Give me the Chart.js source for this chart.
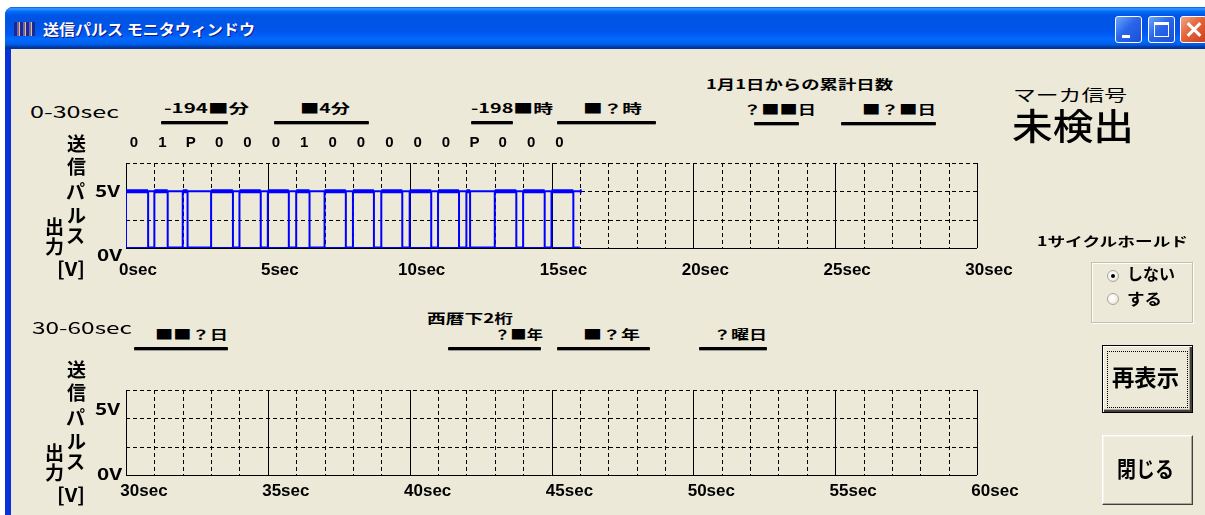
<!DOCTYPE html>
<html>
<head>
<meta charset="utf-8">
<script src="https://cdn.jsdelivr.net/npm/chart.js@4.4.1/dist/chart.umd.min.js"></script>
<style>
  body { margin:0; width:1205px; height:515px; overflow:hidden; background:#fff; position:relative;
         font-family:'Noto Sans CJK JP', sans-serif; }
  .abs { position:absolute; box-sizing:border-box; }
  .t { position:absolute; white-space:nowrap; line-height:1; transform-origin:0 0; color:#000; font-weight:700; font-size:13px; }
  .ul { position:absolute; height:3px; background:#000; box-shadow:0 1px 0 #9a9890; border-radius:1px; }
  .tb { position:absolute; top:16px; width:27px; height:27px; border:1px solid #fff; border-radius:3px; box-sizing:border-box;
        background:linear-gradient(135deg,#6aa6ff 0%,#2a66ea 45%,#1a4fd6 100%); }
  .radio { position:absolute; width:12px; height:12px; border-radius:50%; box-sizing:border-box;
           border:1px solid #a8a698; background:radial-gradient(circle at 40% 40%,#fff 0%,#f4f3ee 50%,#d6d4c8 100%); }
  canvas { position:absolute; left:0; }
</style>
</head>
<body>
<!-- window frame -->
<div class="abs" style="left:5px;top:7px;width:1215px;height:520px;border-radius:8px 8px 0 0;background:linear-gradient(90deg,#0831d9,#166aee 40%,#0855dd)"></div>
<div class="abs" style="left:5px;top:7px;width:1215px;height:42px;border-radius:8px 8px 0 0;
  background:linear-gradient(to bottom,#0058ee 0%,#3593ff 4%,#288eff 6%,#127dff 8%,#036ffc 10%,#0262ee 14%,#0057e5 20%,#0054e3 24%,#0055eb 56%,#005bf5 66%,#026afe 76%,#0062ef 86%,#0052d6 92%,#0040ab 94%,#003092 100%)"></div>
<div class="abs" style="left:11px;top:49px;width:1200px;height:470px;background:#ece9d8"></div>

<!-- title bar -->
<div class="abs" style="left:14px;top:22px;width:21px;height:14px;
  background:repeating-linear-gradient(90deg,#1b2a8c 0 3px,#6c5fd0 3px 5px,#e8c84a 5px 6px)"></div>
<div class="t" data-w="212" style="left:43px;top:21px;font-size:15px;color:#fff;text-shadow:1px 1px 0 #0f1a89">送信パルス モニタウィンドウ</div>
<div class="tb" style="left:1115px"><div class="abs" style="left:6px;top:18px;width:8px;height:3px;background:#fff"></div></div>
<div class="tb" style="left:1148px"><div class="abs" style="left:5px;top:5px;width:15px;height:15px;border:1px solid #fff;border-top-width:3px"></div></div>
<div class="tb" style="left:1180px;background:linear-gradient(135deg,#f3a486 0%,#e4643a 45%,#c8401c 100%)">
  <div class="abs" style="left:4px;top:11px;width:18px;height:3px;background:#fff;transform:rotate(45deg)"></div>
  <div class="abs" style="left:4px;top:11px;width:18px;height:3px;background:#fff;transform:rotate(-45deg)"></div>
</div>

<!-- charts -->
<canvas id="topChart" width="1040" height="160" style="top:131px"></canvas>
<canvas id="bottomChart" width="1040" height="160" style="top:358px"></canvas>

<!-- 0-30sec header -->
<div class="t" data-w="89" style="left:30px;top:103px;font-size:16px;font-weight:400">0-30sec</div>
<div class="t" data-w="85" style="left:164px;top:101px">-194■分</div>
<div class="t" data-w="50" style="left:300px;top:101px">■4分</div>
<div class="t" data-w="82" style="left:471px;top:101px">-198■時</div>
<div class="t" data-w="59" style="left:583px;top:101px">■？時</div>
<div class="t" data-w="187" style="left:706px;top:77px">1月1日からの累計日数</div>
<div class="t" data-w="73" style="left:743px;top:102px">？■■日</div>
<div class="t" data-w="74" style="left:862px;top:102px">■？■日</div>
<div class="ul" style="left:161px;top:121px;width:67px"></div>
<div class="ul" style="left:274px;top:121px;width:95px"></div>
<div class="ul" style="left:471px;top:121px;width:42px"></div>
<div class="ul" style="left:557px;top:121px;width:99px"></div>
<div class="ul" style="left:754px;top:122px;width:45px"></div>
<div class="ul" style="left:841px;top:122px;width:95px"></div>

<div class="t" data-w="114" style="left:1013px;top:86px;font-size:16px;font-weight:400">マーカ信号</div>
<div class="t" data-w="122" style="left:1012px;top:106px;font-size:36px;font-weight:500">未検出</div>

<!-- top y label -->
<div class="t" style="left:67px;top:133px;font-size:19px">送</div>
<div class="t" style="left:67px;top:156px;font-size:19px">信</div>
<div class="t" style="left:66px;top:181px;font-size:19px">パ</div>
<div class="t" style="left:67px;top:205px;font-size:19px">ル</div>
<div class="t" style="left:66px;top:225px;font-size:19px">ス</div>
<div class="t" style="left:45px;top:216px;font-size:19px">出</div>
<div class="t" style="left:45px;top:236px;font-size:19px">力</div>
<div class="t" data-w="28" style="left:57px;top:258px;font-size:19px">[V]</div>
<div class="t" data-w="25" style="left:95px;top:182px;font-size:16px">5V</div>
<div class="t" data-w="25" style="left:97px;top:246px;font-size:16px">0V</div>

<!-- 30-60sec header -->
<div class="t" data-w="100" style="left:32px;top:319px;font-size:16px;font-weight:400">30-60sec</div>
<div class="t" data-w="73" style="left:155px;top:327px">■■？日</div>
<div class="t" data-w="86" style="left:427px;top:311px">西暦下2桁</div>
<div class="t" data-w="49" style="left:494px;top:327px">？■年</div>
<div class="t" data-w="57" style="left:583px;top:327px">■？年</div>
<div class="t" data-w="54" style="left:713px;top:327px">？曜日</div>
<div class="ul" style="left:134px;top:347px;width:94px"></div>
<div class="ul" style="left:448px;top:347px;width:93px"></div>
<div class="ul" style="left:557px;top:347px;width:93px"></div>
<div class="ul" style="left:699px;top:347px;width:68px"></div>

<!-- bottom y label -->
<div class="t" style="left:67px;top:359px;font-size:19px">送</div>
<div class="t" style="left:67px;top:382px;font-size:19px">信</div>
<div class="t" style="left:66px;top:407px;font-size:19px">パ</div>
<div class="t" style="left:67px;top:431px;font-size:19px">ル</div>
<div class="t" style="left:66px;top:451px;font-size:19px">ス</div>
<div class="t" style="left:45px;top:442px;font-size:19px">出</div>
<div class="t" style="left:45px;top:462px;font-size:19px">力</div>
<div class="t" data-w="28" style="left:57px;top:484px;font-size:19px">[V]</div>
<div class="t" data-w="25" style="left:95px;top:400px;font-size:16px">5V</div>
<div class="t" data-w="25" style="left:97px;top:465px;font-size:16px">0V</div>

<!-- right panel -->
<div class="t" data-w="151" style="left:1037px;top:234px">1サイクルホールド</div>
<div class="abs" style="left:1091px;top:262px;width:102px;height:61px;border:1px solid #c3c0b0;box-shadow:inset 1px 1px #fff,1px 1px #fff"></div>
<div class="radio" style="left:1107px;top:270px"><div class="abs" style="left:3px;top:3px;width:4px;height:4px;border-radius:50%;background:#000"></div></div>
<div class="t" data-w="48" style="left:1127px;top:265px;font-size:16px">しない</div>
<div class="radio" style="left:1107px;top:293px"></div>
<div class="t" data-w="35" style="left:1127px;top:290px;font-size:16px">する</div>

<div class="abs" style="left:1102px;top:345px;width:91px;height:68px;background:#ece9d8;border:1px solid #000;
  box-shadow:inset 1px 1px #fff,inset -2px -2px #404040,inset -3px -3px #aca899"></div>
<div class="abs" style="left:1107px;top:351px;width:81px;height:57px;border:1px dotted #000"></div>
<div class="t" data-w="67" style="left:1112px;top:365px;font-size:23px">再表示</div>

<div class="abs" style="left:1102px;top:435px;width:91px;height:70px;background:#ece9d8;border:1px solid;
  border-color:#fff #404040 #404040 #fff;box-shadow:inset -1px -1px #aca899,inset 1px 1px #f4f3ee"></div>
<div class="t" data-w="57" style="left:1117px;top:456px;font-size:22px">閉じる</div>

<script>
// ---------- Data ----------
const BITS = ['0', '1', 'P', '0', '0', '0', '1', '0', '0', '0', '0', '0', 'P', '0', '0', '0'];
// seconds the pulse stays at 5V in each second
const HIGH_SEC = [0.78, 0.47, 0.17, 0.77, 0.75, 0.74, 0.47, 0.75, 0.74, 0.74, 0.76, 0.74, 0.13, 0.76, 0.76, 0.77];
const TAIL_START = 16;   // last rising edge before the trace stops
const TAIL_LEN = 0.06;
const HIGH_V = 5;
const LOW_V = 0;
const TOP_RANGE = [0, 30];
const BOTTOM_RANGE = [30, 60];
const TICK_STEP = 5;
const V_GRID = [2.5, 5, 7.5];
const V_MAX = 7.5;

const LABEL_FONT = '"Liberation Sans", "DejaVu Sans", sans-serif';

// text widths: stretch each label to the width seen in the screenshot
document.querySelectorAll('[data-w]').forEach(el => {
  const w = el.getBoundingClientRect().width;
  el.style.transform = `scaleX(${(+el.dataset.w / w).toFixed(3)})`;
});

// ---------- Trace ----------
function buildTrace() {
  const step = [], hi = [], lo = [];
  HIGH_SEC.forEach((d, i) => {
    const fall = i + d;
    step.push({x: i, y: HIGH_V}, {x: fall, y: LOW_V});
    hi.push({x: i, y: HIGH_V}, {x: fall, y: HIGH_V}, {x: fall, y: null});
    lo.push({x: fall, y: LOW_V}, {x: i + 1, y: LOW_V}, {x: i + 1, y: null});
  });
  step.push({x: TAIL_START, y: HIGH_V}, {x: TAIL_START + TAIL_LEN, y: HIGH_V});
  hi.push({x: TAIL_START, y: HIGH_V}, {x: TAIL_START + TAIL_LEN, y: HIGH_V});
  return {step, hi, lo};
}

// ---------- Scope grid (dashed each second, solid every 5s) ----------
const scopeGrid = {
  id: 'scopeGrid',
  beforeDatasetsDraw(chart) {
    const {ctx, chartArea: a, scales: {x, y}} = chart;
    ctx.save();
    ctx.strokeStyle = '#000';
    ctx.lineWidth = 1;
    const line = (x1, y1, x2, y2, dashed) => {
      ctx.setLineDash(dashed ? [4, 3] : []);
      ctx.beginPath();
      ctx.moveTo(x1, y1);
      ctx.lineTo(x2, y2);
      ctx.stroke();
    };
    for (let s = x.min; s <= x.max; s++) {
      const px = Math.round(x.getPixelForValue(s)) + 0.5;
      line(px, a.top, px, a.bottom, s % TICK_STEP !== 0);
    }
    V_GRID.forEach(v => {
      const py = Math.round(y.getPixelForValue(v)) + 0.5;
      line(a.left, py, a.right, py, true);
    });
    const py0 = Math.round(y.getPixelForValue(LOW_V)) + 0.5;
    line(a.left, py0, a.right, py0, false);
    ctx.restore();
  }
};

// bit values written above each second
const bitRow = {
  id: 'bitRow',
  afterDraw(chart) {
    const {ctx, scales: {x}} = chart;
    ctx.save();
    ctx.fillStyle = '#000';
    ctx.font = 'bold 15px ' + LABEL_FONT;
    ctx.textAlign = 'center';
    ctx.textBaseline = 'middle';
    BITS.forEach((b, i) => ctx.fillText(b, x.getPixelForValue(i) + 8, 12));
    ctx.restore();
  }
};

function makeScope(canvasId, range, datasets, tickPad, labelOffset, plugins) {
  return new Chart(document.getElementById(canvasId), {
    type: 'line',
    data: {datasets},
    plugins: [scopeGrid, ...plugins],
    options: {
      responsive: false,
      animation: false,
      devicePixelRatio: 1,
      layout: {padding: {left: 126, right: 63, top: 32, bottom: 0}},
      plugins: {legend: {display: false}, tooltip: {enabled: false}},
      elements: {point: {radius: 0}},
      scales: {
        x: {
          type: 'linear',
          min: range[0],
          max: range[1],
          grid: {display: false, drawTicks: false},
          border: {display: false},
          ticks: {
            stepSize: TICK_STEP,
            padding: tickPad,
            labelOffset: labelOffset,
            autoSkip: false,
            maxRotation: 0,
            color: '#000',
            font: {family: LABEL_FONT, size: 17, weight: 'bold'},
            callback: v => v + 'sec'
          },
          afterFit: s => { s.height = 43; }
        },
        y: {display: false, min: LOW_V, max: V_MAX}
      }
    }
  });
}

const trace = buildTrace();
makeScope('topChart', TOP_RANGE, [
  {data: trace.step, stepped: 'after', borderColor: '#0000ff', borderWidth: 2},
  {data: trace.hi, borderColor: '#0000ff', borderWidth: 4, borderCapStyle: 'butt'},
  {data: trace.lo, borderColor: '#0000ff', borderWidth: 3, borderCapStyle: 'butt'}
], 12, 12, [bitRow]);

makeScope('bottomChart', BOTTOM_RANGE, [
  {data: [], borderColor: '#0000ff', borderWidth: 2}
], 6, 18, []);
</script>
</body>
</html>
